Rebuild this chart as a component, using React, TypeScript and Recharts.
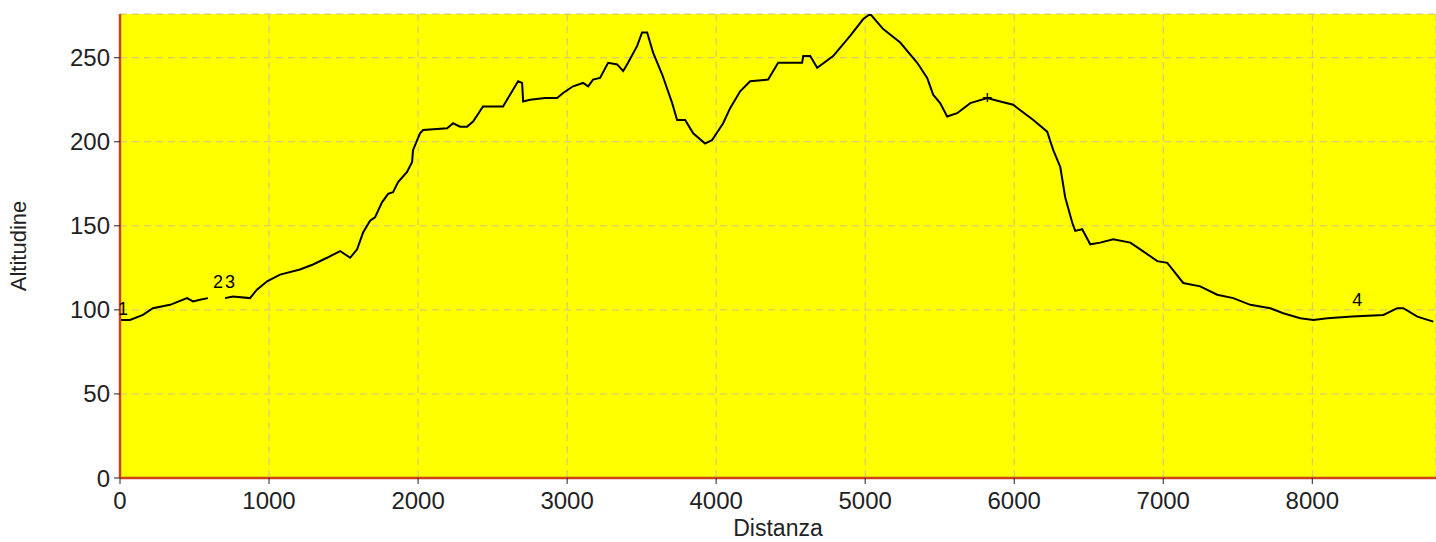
import {
  LineChart,
  Line,
  XAxis,
  YAxis,
  CartesianGrid,
  ReferenceDot,
} from "recharts";

// distance along the route (m)
const distance = [
  0, 67, 154, 221, 336, 450, 490, 537, 590, 650, 705, 758, 872, 919, 987,
  1074, 1208, 1295, 1389, 1477, 1544, 1591, 1631, 1678, 1711, 1758, 1799,
  1832, 1866, 1926, 1960, 1966, 2013, 2034, 2195, 2235, 2282, 2329, 2369,
  2436, 2570, 2617, 2671, 2698, 2705, 2752, 2852, 2933, 2973, 3040, 3107,
  3141, 3174, 3221, 3275, 3336, 3376, 3409, 3470, 3503, 3537, 3577, 3638,
  3705, 3738, 3792, 3846, 3926, 3973, 4047, 4094, 4161, 4228, 4349, 4416,
  4577, 4584, 4631, 4678, 4785, 4899, 4987, 5034, 5121, 5235, 5349, 5416,
  5456, 5503, 5550, 5617, 5705, 5819, 5906, 5993, 6128, 6221, 6262, 6309,
  6342, 6389, 6409, 6456, 6510, 6577, 6664, 6779, 6846, 6960, 7027, 7134,
  7248, 7362, 7470, 7584, 7718, 7805, 7919, 8007, 8101, 8268, 8477, 8570,
  8611, 8705, 8812,
];

// altitude (m), null = gap in the trace
const altitude: (number | null)[] = [
  94, 94, 97, 101, 103, 107, 105, 106, 107, null, 107, 108, 107, 112, 117,
  121, 124, 127, 131, 135, 131, 136, 146, 153, 155, 164, 169,
  170, 176, 182, 188, 195, 205, 207, 208, 211, 209, 209, 212,
  221, 221, 228, 236, 235, 224, 225, 226, 226, 229, 233, 235,
  233, 237, 238, 247, 246, 242, 247, 257, 265, 265, 253, 240,
  223, 213, 213, 205, 199, 201, 211, 220, 230, 236, 237, 247,
  247, 251, 251, 244, 251, 263, 273, 276, 267, 259, 247, 238,
  228, 223, 215, 217, 223, 226, 224, 222, 213, 206, 195, 185,
  167, 152, 147, 148, 139, 140, 142, 140, 136, 129, 128, 116,
  114, 109, 107, 103, 101, 98, 95, 94, 95, 96, 97, 101,
  101, 96, 93,
];

const xTicks = [0, 1000, 2000, 3000, 4000, 5000, 6000, 7000, 8000];
const yTicks = [0, 50, 100, 150, 200, 250];

// waypoint labels drawn on the profile
const markerNames = ["1", "2", "3", "4", "+"];
const markerDist = [20, 658, 738, 8302, 5819];
const markerAlt = [101, 117, 117, 106, 226];

const data = distance.map((d, i) => ({ dist: d, alt: altitude[i] }));

const font = "'Liberation Sans', Arial, sans-serif";
const axisColor = "#c9461a";

export default function App() {
  return (
    <div style={{ position: "absolute", left: 0, top: 0, background: "#fff" }}>
      <LineChart
        width={1436}
        height={542}
        data={data}
        margin={{ top: 14, right: 0, bottom: 0, left: 0 }}
      >
        <CartesianGrid
          fill="#ffff00"
          stroke="#cfc08a"
          strokeDasharray="7 5"
        />
        <XAxis
          dataKey="dist"
          type="number"
          domain={[0, 8830]}
          ticks={xTicks}
          allowDataOverflow
          height={64}
          tickSize={6}
          tickMargin={8}
          axisLine={{ stroke: axisColor, strokeWidth: 2.5 }}
          tickLine={{ stroke: "#222" }}
          tick={{ fill: "#222", fontSize: 24, fontFamily: font }}
          label={{
            value: "Distanza",
            position: "insideBottom",
            offset: 6,
            fill: "#222",
            fontSize: 23,
            fontFamily: font,
          }}
        />
        <YAxis
          type="number"
          domain={[0, 276]}
          ticks={yTicks}
          allowDataOverflow
          width={120}
          tickSize={6}
          tickMargin={4}
          axisLine={{ stroke: axisColor, strokeWidth: 2.5 }}
          tickLine={{ stroke: "#222" }}
          tick={{ fill: "#222", fontSize: 24, fontFamily: font }}
          label={{
            value: "Altitudine",
            angle: -90,
            position: "insideLeft",
            offset: 18,
            style: { textAnchor: "middle" },
            fill: "#222",
            fontSize: 22,
            fontFamily: font,
          }}
        />
        <Line
          type="linear"
          dataKey="alt"
          stroke="#000"
          strokeWidth={2}
          dot={false}
          isAnimationActive={false}
        />
        {markerNames.map((name, i) => (
          <ReferenceDot
            key={name}
            x={markerDist[i]}
            y={markerAlt[i]}
            r={1}
            fill="none"
            stroke="none"
            label={{
              value: name,
              position: "center",
              fill: "#000",
              fontSize: 18,
              fontFamily: font,
            }}
          />
        ))}
      </LineChart>
    </div>
  );
}
